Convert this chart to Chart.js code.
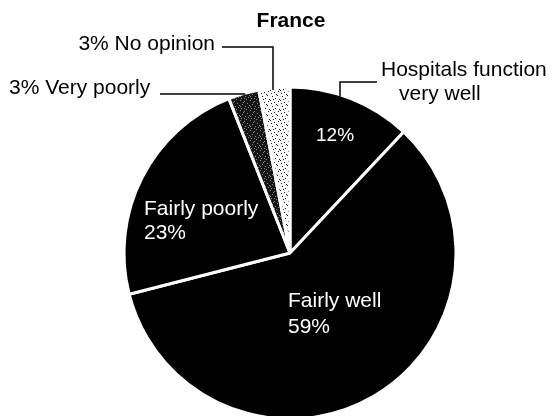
<!DOCTYPE html>
<html>
<head>
<meta charset="utf-8">
<script src="https://cdn.jsdelivr.net/npm/chart.js@4/dist/chart.umd.min.js"></script>
<style>
  html, body { margin: 0; padding: 0; background: #fff; }
  canvas { display: block; }
</style>
</head>
<body>
<canvas id="c" width="552" height="416"></canvas>
<script>
// Opinion of hospitals in France, share of respondents (%)
const categories = ['Hospitals function very well', 'Fairly well', 'Fairly poorly', 'Very poorly', 'No opinion'];
const shares = [12, 59, 23, 3, 3];
const chartTitle = 'France';

const FONT = '"Liberation Sans", Arial, Helvetica, sans-serif';

// Stipple textures for the two small slices
function stipple(bg, dot, dots, size) {
  const t = document.createElement('canvas');
  t.width = size; t.height = size;
  const g = t.getContext('2d');
  g.fillStyle = bg;
  g.fillRect(0, 0, size, size);
  g.fillStyle = dot;
  dots.forEach(([x, y]) => g.fillRect(x, y, 1, 1));
  return g.createPattern(t, 'repeat');
}
const ctx = document.getElementById('c').getContext('2d');
const darkTexture = stipple('#151515', '#8c8c8c',
  [[0,0],[4,1],[7,3],[2,4],[5,6],[1,8],[8,7],[3,2],[6,9],[9,5],[0,6],[4,8]], 10);
const lightTexture = stipple('#f6f6f6', '#1e1e1e',
  [[0,0],[4,2],[7,5],[2,6],[5,8],[8,1],[1,3],[9,9],[6,4],[3,9]], 10);

const fills = ['#000000', '#000000', '#000000', darkTexture, lightTexture];

// Slice geometry from the arc element
function arcOf(chart, i) {
  return chart.getDatasetMeta(0).data[i].getProps(['x', 'y', 'outerRadius', 'startAngle', 'endAngle'], true);
}
// Top edge of the circle at a given x
function edgeYAt(a, x) {
  return a.y - Math.sqrt(Math.max(a.outerRadius * a.outerRadius - (x - a.x) * (x - a.x), 0));
}
// Left edge of the circle at a given y
function edgeXAt(a, y) {
  return a.x - Math.sqrt(Math.max(a.outerRadius * a.outerRadius - (y - a.y) * (y - a.y), 0));
}

const labelPlugin = {
  id: 'pieLabels',
  afterDraw(chart) {
    const c = chart.ctx;
    const a = arcOf(chart, 0);
    c.save();

    // Title
    c.fillStyle = '#000';
    c.font = 'bold 21px ' + FONT;
    c.textAlign = 'center';
    c.textBaseline = 'alphabetic';
    c.fillText(chartTitle, a.x + 1, 27);

    c.font = '21px ' + FONT;
    c.textAlign = 'left';

    // Outside labels with leader lines
    c.strokeStyle = '#000';
    c.lineWidth = 1.5;

    c.fillText('Hospitals function', 381, 76);
    c.fillText('very well', 399, 100);
    c.beginPath();
    c.moveTo(340, edgeYAt(a, 340) + 2);
    c.lineTo(340, 82);
    c.lineTo(377, 82);
    c.stroke();

    c.textAlign = 'right';
    c.fillText(shares[4] + '% ' + categories[4], 215, 50);
    c.beginPath();
    c.moveTo(222, 47);
    c.lineTo(273, 47);
    c.lineTo(273, edgeYAt(a, 273) + 2);
    c.stroke();

    c.textAlign = 'left';
    c.fillText(shares[3] + '% ' + categories[3], 9, 94);
    c.beginPath();
    c.moveTo(160, 94);
    c.lineTo(edgeXAt(a, 94) + 3, 94);
    c.stroke();

    // Inside labels
    c.fillStyle = '#fff';
    c.font = '19px ' + FONT;
    c.fillText(shares[0] + '%', 316, 141);
    c.font = '21px ' + FONT;
    c.fillText(categories[2], 144, 215);
    c.fillText(shares[2] + '%', 144, 239);
    c.fillText(categories[1], 288, 307);
    c.fillText(shares[1] + '%', 288, 333);

    c.restore();
  }
};

new Chart(ctx, {
  type: 'pie',
  data: {
    labels: categories,
    datasets: [{
      data: shares,
      backgroundColor: fills,
      borderColor: '#ffffff',
      borderWidth: 3,
      radius: 166
    }]
  },
  options: {
    responsive: false,
    animation: false,
    events: [],
    layout: { padding: { left: 28, right: 0, top: 90, bottom: 0 } },
    plugins: {
      legend: { display: false },
      title: { display: false },
      tooltip: { enabled: false }
    }
  },
  plugins: [labelPlugin]
});
</script>
</body>
</html>
